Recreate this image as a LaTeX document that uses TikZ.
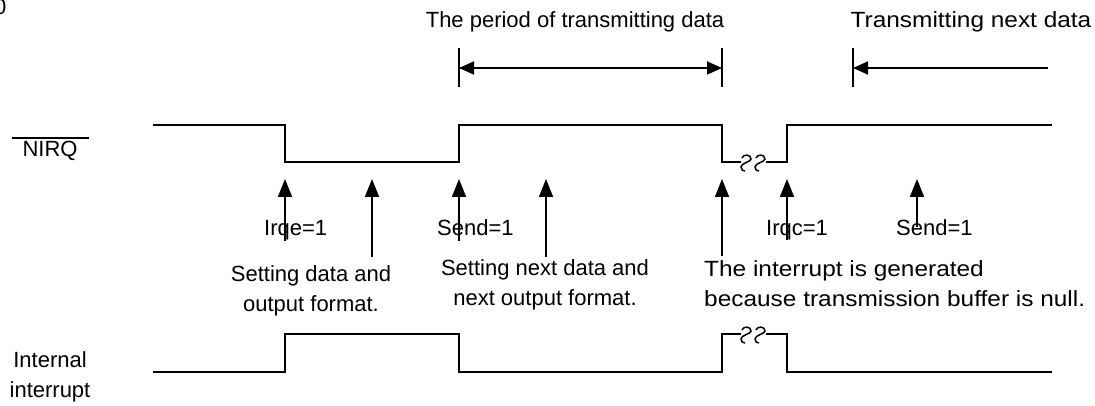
\documentclass[tikz,border=0pt]{standalone}
\usepackage{fontspec}
\setmainfont{Liberation Sans}
\newfontfamily\widefont{Liberation Sans}[FakeStretch=1.11]
\usetikzlibrary{arrows.meta}
\begin{document}
\begin{tikzpicture}[x=1pt,y=-1pt,
  wave/.style={line width=1.8pt,line join=miter},
  uparrow/.style={line width=1.8pt,-{Triangle[length=18pt,width=14pt]}},
  harrow/.style={line width=1.8pt},
  bar/.style={line width=1.8pt},
  lbl/.style={font=\fontsize{22}{30}\selectfont,inner sep=0pt},
  widelbl/.style={font=\widefont\fontsize{22}{30}\selectfont,inner sep=0pt},
  brk/.pic={\draw[line width=1.5pt] (-4,-4) .. controls (-3,-8) and (5,-8) .. (5,-3) .. controls (5,0) and (-5,1) .. (-5,5) .. controls (-5,8) and (-3,9) .. (-1,9);}
]
\useasboundingbox (0,0) rectangle (1095,406);

% partial label at the corner
\node[lbl,anchor=base west] (zero) at (-6,15) {0};

% top labels
\node[lbl,anchor=base] (period) at (575,28) {The period of transmitting data};
\node[widelbl,anchor=base] (nextd) at (971,28) {Transmitting next data};

% period arrows
\coordinate (p1t) at (459,48); \coordinate (p1b) at (459,87);
\coordinate (p2t) at (722,48); \coordinate (p2b) at (722,87);
\coordinate (p3t) at (853,48); \coordinate (p3b) at (853,87);
\coordinate (pl) at (459,68); \coordinate (pr) at (722,68);
\coordinate (nl) at (853,68); \coordinate (nr) at (1048,68);
\draw[bar] (p1t) -- (p1b);
\draw[bar] (p2t) -- (p2b);
\draw[bar] (p3t) -- (p3b);
\draw[harrow,{Triangle[length=15pt,width=13pt]}-{Triangle[length=15pt,width=13pt]}] (pl) -- (pr);
\draw[harrow,-{Triangle[length=15pt,width=13pt]}] (nr) -- (nl);

% signal names
\node[lbl,anchor=base] (nirq) at (50,157) {NIRQ};
\coordinate (ovl) at (12,138); \coordinate (ovr) at (89,138);
\draw[line width=1.5pt] (ovl) -- (ovr);
\node[lbl,anchor=base,align=center] (intr) at (50,397) {Internal\\interrupt};

% NIRQ waveform
\draw[wave] (153,125) -- (285,125) -- (285,162) -- (459,162) -- (459,125) -- (722,125) -- (722,162) -- (741,162);
\draw[wave] (766,162) -- (787,162) -- (787,125) -- (1052,125);
\pic at (746,162) {brk};
\pic at (760,162) {brk};

% internal interrupt waveform
\draw[wave] (153,372) -- (285,372) -- (285,334) -- (459,334) -- (459,372) -- (722,372) -- (722,334) -- (741,334);
\draw[wave] (766,334) -- (787,334) -- (787,372) -- (1052,372);
\pic at (746,334) {brk};
\pic at (760,334) {brk};

% up arrows
\coordinate (a1t) at (285,179); \coordinate (a1b) at (285,241);
\coordinate (a2t) at (372,179); \coordinate (a2b) at (372,257);
\coordinate (a3t) at (459,179); \coordinate (a3b) at (459,241);
\coordinate (a4t) at (546,179); \coordinate (a4b) at (546,257);
\coordinate (a5t) at (722,179); \coordinate (a5b) at (722,256);
\coordinate (a6t) at (787,179); \coordinate (a6b) at (787,240);
\coordinate (a7t) at (917,179); \coordinate (a7b) at (917,227);
\foreach \i in {1,...,7} {\draw[uparrow] (a\i b) -- (a\i t);}

% arrow labels
\node[lbl,anchor=base west] (irqe) at (264,236) {Irqe=1};
\node[lbl,anchor=base west] (send1) at (437,236) {Send=1};
\node[lbl,anchor=base west] (irqc) at (766,236) {Irqc=1};
\node[lbl,anchor=base west] (send2) at (896,236) {Send=1};

\node[lbl,anchor=base,align=center] (set1) at (311,311) {Setting data and\\output format.};
\node[lbl,anchor=base,align=center] (set2) at (545,305) {Setting next data and\\next output format.};
\node[widelbl,anchor=base west,align=left] (gen) at (704,306) {The interrupt is generated\\because transmission buffer is null.};
\end{tikzpicture}
\end{document}
